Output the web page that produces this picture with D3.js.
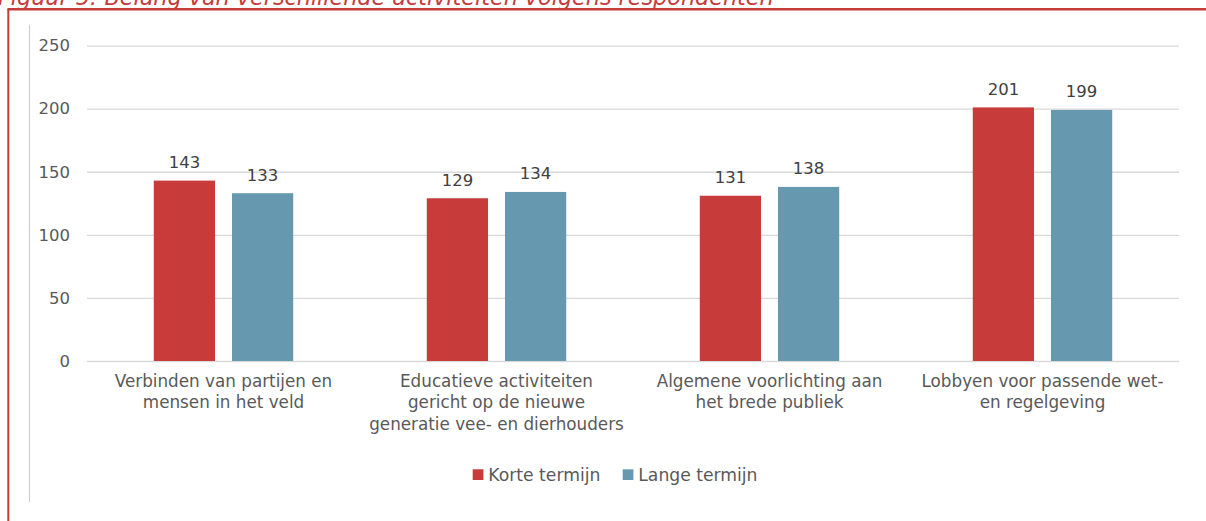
<!DOCTYPE html>
<html>
<head>
<meta charset="utf-8">
<script src="https://cdn.jsdelivr.net/npm/d3@7"></script>
<style>
  html, body { margin: 0; padding: 0; background: #fff; }
  svg { display: block; }
  text { font-family: "DejaVu Sans", sans-serif; }
</style>
</head>
<body>
<svg id="chart" width="1206" height="521"></svg>
<script>
const title = "Figuur 5: Belang van verschillende activiteiten volgens respondenten";
const categories = [
  "Verbinden van partijen en|mensen in het veld",
  "Educatieve activiteiten|gericht op de nieuwe|generatie vee- en dierhouders",
  "Algemene voorlichting aan|het brede publiek",
  "Lobbyen voor passende wet-|en regelgeving"
];
const seriesNames = ["Korte termijn", "Lange termijn"];
const korteTermijn = [143, 129, 131, 201];
const langeTermijn = [133, 134, 138, 199];
const yTicks = [0, 50, 100, 150, 200, 250];

const colors = { "Korte termijn": "#c73b3b", "Lange termijn": "#6699b0" };
const textColor = "#595959";

const svg = d3.select("#chart");
svg.append("rect").attr("width", 1206).attr("height", 521).attr("fill", "#fff");

// Document frame (title is cropped at the top edge, as in the reference)
svg.append("text").attr("x", -2).attr("y", 5)
  .attr("font-size", 22.3).attr("font-style", "italic").attr("fill", "#c73b3b")
  .text(title);
svg.append("line").attr("x1", 7.5).attr("x2", 1206).attr("y1", 9.3).attr("y2", 9.3)
  .attr("stroke", "#c73b3b").attr("stroke-width", 2.4);
svg.append("line").attr("x1", 8.3).attr("x2", 8.3).attr("y1", 9).attr("y2", 521)
  .attr("stroke", "#c73b3b").attr("stroke-width", 2);
svg.append("line").attr("x1", 29.5).attr("x2", 29.5).attr("y1", 25).attr("y2", 502)
  .attr("stroke", "#cfcfcf").attr("stroke-width", 1.2);

const plotLeft = 87, plotRight = 1179, plotTop = 45.6, plotBottom = 361;

const x0 = d3.scaleBand().domain(categories).range([plotLeft, plotRight]);
const x1 = d3.scaleBand().domain(seriesNames).range([0, x0.bandwidth()])
  .paddingInner(0.217).paddingOuter(0.854);
const y = d3.scaleLinear().domain([0, 250]).range([plotBottom, plotTop]);

// Y axis with gridlines
const yAxis = d3.axisLeft(y).tickValues(yTicks).tickSize(-(plotRight - plotLeft)).tickPadding(17);
const gy = svg.append("g").attr("transform", `translate(${plotLeft},0)`).call(yAxis);
gy.select(".domain").remove();
gy.selectAll(".tick line").attr("stroke", "#d9d9d9").attr("stroke-width", 1.3);
gy.selectAll(".tick text").attr("fill", textColor).attr("font-size", 16.5)
  .attr("font-family", "DejaVu Sans");

// Bars
const rows = categories.map((c, i) => ({ cat: c, vals: [
  { s: seriesNames[0], v: korteTermijn[i] },
  { s: seriesNames[1], v: langeTermijn[i] }
]}));

const groups = svg.selectAll("g.grp").data(rows).join("g").attr("class", "grp")
  .attr("transform", d => `translate(${x0(d.cat)},0)`);
groups.selectAll("rect").data(d => d.vals).join("rect")
  .attr("x", d => x1(d.s)).attr("width", x1.bandwidth())
  .attr("y", d => y(d.v)).attr("height", d => y(0) - y(d.v))
  .attr("fill", d => colors[d.s]);
groups.selectAll("text.val").data(d => d.vals).join("text").attr("class", "val")
  .attr("x", d => x1(d.s) + x1.bandwidth() / 2).attr("y", d => y(d.v) - 12.5)
  .attr("text-anchor", "middle").attr("font-size", 16.5).attr("fill", "#404040")
  .text(d => d.v);

// X axis labels
const xAxis = d3.axisBottom(x0).tickSize(0).tickPadding(0);
const gx = svg.append("g").attr("transform", `translate(0,${plotBottom})`).call(xAxis);
gx.select(".domain").remove();
gx.selectAll(".tick text").each(function(d) {
  const t = d3.select(this);
  t.text(null).attr("y", 0).attr("dy", null)
    .attr("fill", textColor).attr("font-size", 16.8).attr("font-family", "DejaVu Sans");
  d.split("|").forEach((line, i) => {
    t.append("tspan").attr("x", 0).attr("y", 25.5 + i * 21.5).text(line);
  });
});

// Legend
const legendX = [472.7, 622.7];
const lg = svg.selectAll("g.leg").data(seriesNames).join("g").attr("class", "leg")
  .attr("transform", (d, i) => `translate(${legendX[i]},469.3)`);
lg.append("rect").attr("width", 10.7).attr("height", 10.7).attr("fill", d => colors[d]);
lg.append("text").attr("x", 15.6).attr("y", 11.4).attr("font-size", 17.2)
  .attr("fill", textColor).text(d => d);
</script>
</body>
</html>
